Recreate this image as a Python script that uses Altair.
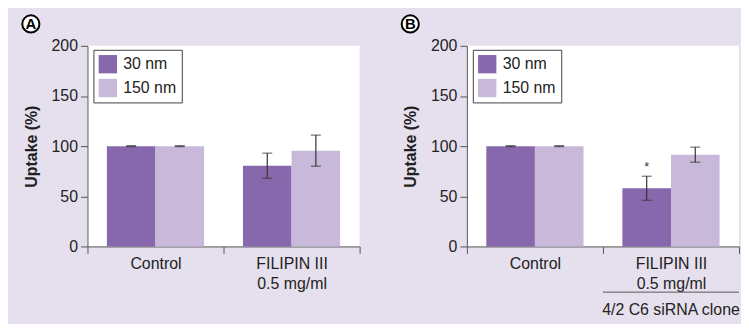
import altair as alt
import pandas as pd

categories = ["Control", "FILIPIN III|0.5 mg/ml"]
sizes = ["30 nm", "150 nm"]
a_values = [100, 100, 80.5, 95.5]
a_errors = [0.5, 0.5, 12.5, 15.5]
b_values = [100, 100, 58, 91.5]
b_errors = [0.5, 0.5, 12, 7.5]
b_marks = ["", "", "*", ""]
panel_labels = ["A", "B"]
y_ticks = [0, 50, 100, 150, 200]

DARK = "#8868AC"
LIGHT = "#C8B9DB"
BG = "#E6E0EE"
FONT = "Liberation Sans"
FS = 16


def make_df(values, errors, marks):
    rows = []
    i = 0
    for c in categories:
        for s in sizes:
            rows.append({
                "cat": c, "size": s, "value": values[i],
                "lo": values[i] - errors[i], "hi": values[i] + errors[i],
                "sig": marks[i],
            })
            i += 1
    return pd.DataFrame(rows)


def panel(df, label, extra_title):
    xaxis = alt.Axis(
        title=extra_title if extra_title else None,
        labelExpr="split(datum.label, '|')",
        labelAngle=0, tickBand="extent", tickSize=7, labelPadding=2,
        labelLineHeight=20, labelFontSize=FS, labelColor="#222",
        domainColor="#555", tickColor="#555", labelFont=FONT,
        titleFont=FONT, titleFontSize=FS, titleFontWeight="normal",
        titleColor="#222",
        **({"titleX": 205, "titleY": 64, "titleBaseline": "middle", "titleAlign": "center"} if extra_title else {}),
    )
    x = alt.X("cat:N", sort=categories, axis=xaxis,
              scale=alt.Scale(paddingInner=0, paddingOuter=0))
    xo = alt.XOffset("size:N", sort=sizes,
                     scale=alt.Scale(paddingOuter=0.4, paddingInner=0))
    y = alt.Y("value:Q", scale=alt.Scale(domain=[0, 200], nice=False),
              axis=alt.Axis(title="Uptake (%)", values=y_ticks, grid=False,
                            tickSize=7, labelPadding=3, labelFontSize=FS,
                            labelColor="#222", titleFontSize=FS,
                            titleFontWeight="bold", titleColor="#222",
                            titlePadding=12, domainColor="#555",
                            tickColor="#555", labelFont=FONT, titleFont=FONT))
    base = alt.Chart(df)
    bars = base.mark_bar().encode(
        x=x, xOffset=xo, y=y,
        color=alt.Color("size:N", sort=sizes,
                        scale=alt.Scale(domain=sizes, range=[DARK, LIGHT]),
                        legend=alt.Legend(title=None, orient="none",
                                          legendX=6, legendY=4,
                                          fillColor="white", strokeColor="#444",
                                          padding=5, symbolType="square",
                                          symbolSize=340, symbolStrokeWidth=0,
                                          symbolOpacity=1,
                                          labelFontSize=FS, labelFont=FONT,
                                          labelColor="#222", rowPadding=5,
                                          labelOffset=6)),
    )
    rules = base.mark_rule(color="#333", strokeWidth=1.2).encode(
        x=x, xOffset=xo, y="lo:Q", y2="hi:Q")
    cap_lo = base.mark_tick(color="#333", thickness=1.2, size=10,
                            orient="horizontal").encode(x=x, xOffset=xo, y="lo:Q")
    cap_hi = base.mark_tick(color="#333", thickness=1.2, size=10,
                            orient="horizontal").encode(x=x, xOffset=xo, y="hi:Q")
    star = base.mark_text(fontSize=13, color="#333", dy=-9, font=FONT).encode(
        x=x, xOffset=xo, y="hi:Q", text="sig:N")
    lab_df = pd.DataFrame({"label": [label]})
    circ = alt.Chart(lab_df).mark_point(shape="circle", filled=True, fill="white",
                                        stroke="black", strokeWidth=2, size=300,
                                        opacity=1).encode(
        x=alt.value(-57), y=alt.value(-22))
    txt = alt.Chart(lab_df).mark_text(fontSize=15, fontWeight="bold",
                                      font=FONT, color="black").encode(
        x=alt.value(-57), y=alt.value(-21.5), text="label:N")
    layers = [bars, rules, cap_lo, cap_hi, star, circ, txt]
    if extra_title:
        line = alt.Chart(lab_df).mark_rule(color="#555", strokeWidth=1).encode(
            x=alt.value(137), x2=alt.value(274), y=alt.value(248))
        layers.append(line)
    return alt.layer(*layers).properties(width=274, height=202)


pa = panel(make_df(a_values, a_errors, ["", "", "", ""]), panel_labels[0], None)
pb = panel(make_df(b_values, b_errors, b_marks), panel_labels[1], "4/2 C6 siRNA clone")

chart = alt.hconcat(pa, pb, spacing=37).resolve_legend(color="independent").properties(
    padding={"left": 10, "top": 2, "right": 1, "bottom": 5},
    background=BG,
).configure_view(fill="white", stroke=None)

chart.save("out.html", embed_options={"renderer": "svg", "actions": False})
